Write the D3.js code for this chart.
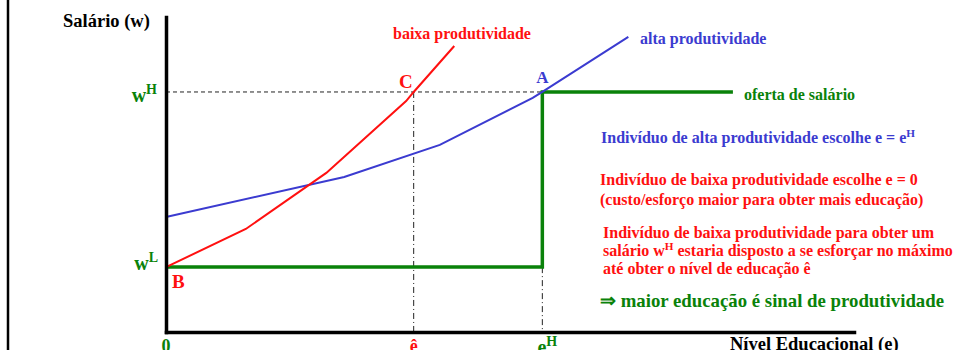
<!DOCTYPE html>
<html>
<head>
<meta charset="utf-8">
<script src="https://cdn.jsdelivr.net/npm/d3@7"></script>
<style>
  body { margin: 0; background: #fff; }
  svg { display: block; font-family: "Liberation Serif", "Times New Roman", serif; font-weight: bold; }
</style>
</head>
<body>
<svg id="chart" width="961" height="350"></svg>
<script>
// education level (x) and wage (y), 0..100 scale
const lowX = [0, 11.6, 23.3, 34.9, 36.0, 41.9];
const lowY = [20.6, 32.7, 50.5, 73.3, 76.2, 90.8];
const highX = [0, 25.9, 39.8, 53.3, 54.7, 67.2];
const highY = [36.5, 49.2, 59.4, 74.3, 76.2, 93.7];
const offerX = [0, 54.7, 54.7, 82.4];
const offerY = [20.6, 20.6, 76.2, 76.2];
const wL = 20.6, wH = 76.2, eHat = 36.0, eH = 54.7;

const seriesNames = ['baixa produtividade', 'alta produtividade', 'oferta de salário'];
const pointLabels = ['A', 'B', 'C'];
const notes = [
  { color: 'blue', parts: [['Indivíduo de alta produtividade escolhe e = e'], ['H', 1]] },
  { color: 'red', parts: [['Indivíduo de baixa produtividade escolhe e = 0']] },
  { color: 'red', parts: [['(custo/esforço maior para obter mais educação)']] },
  { color: 'red', parts: [['Indivíduo de baixa produtividade para obter um']] },
  { color: 'red', parts: [['salário w'], ['H', 1], [' estaria disposto a se esforçar no máximo']] },
  { color: 'red', parts: [['até obter o nível de educação ê']] },
  { color: 'green', parts: [['⇒ maior educação é sinal de produtividade']] }
];

const C = { red: '#ff1010', blue: '#3b3bd0', green: '#0a820a', black: '#000' };

const svg = d3.select('#chart');
const x = d3.scaleLinear().domain([0, 100]).range([166, 854]);
const y = d3.scaleLinear().domain([0, 100]).range([332, 17]);

// text with optional superscript parts
function label(g, px, py, parts, size, color, anchor = 'start') {
  const t = g.append('text')
    .attr('x', px).attr('y', py)
    .attr('font-size', size)
    .attr('fill', color)
    .attr('text-anchor', anchor);
  let raised = false;
  parts.forEach(([s, sup]) => {
    const ts = t.append('tspan').text(s);
    if (sup && !raised) { ts.attr('dy', -size * 0.4).attr('font-size', size * 0.7); raised = true; }
    else if (!sup && raised) { ts.attr('dy', size * 0.4); raised = false; }
  });
  return t;
}

// slide border on the left
svg.append('line')
  .attr('x1', 8).attr('x2', 8).attr('y1', 0).attr('y2', 350)
  .attr('stroke', C.black).attr('stroke-width', 2.5);

// guide lines
svg.append('line')
  .attr('x1', x(0)).attr('x2', x(eH)).attr('y1', y(wH)).attr('y2', y(wH))
  .attr('stroke', '#222').attr('stroke-width', 1).attr('stroke-dasharray', '4,3');
svg.append('line')
  .attr('x1', x(eHat)).attr('x2', x(eHat)).attr('y1', y(wH)).attr('y2', y(0))
  .attr('stroke', '#222').attr('stroke-width', 1).attr('stroke-dasharray', '6,3,1,3');
svg.append('line')
  .attr('x1', x(eH)).attr('x2', x(eH)).attr('y1', y(wL)).attr('y2', y(0))
  .attr('stroke', '#222').attr('stroke-width', 1).attr('stroke-dasharray', '6,3,1,3');

const line = d3.line().x(d => x(d[0])).y(d => y(d[1]));

svg.append('path')
  .datum(offerX.map((v, i) => [v, offerY[i]]))
  .attr('d', line).attr('fill', 'none')
  .attr('stroke', C.green).attr('stroke-width', 3.5);
svg.append('path')
  .datum(highX.map((v, i) => [v, highY[i]]))
  .attr('d', line).attr('fill', 'none')
  .attr('stroke', C.blue).attr('stroke-width', 2);
svg.append('path')
  .datum(lowX.map((v, i) => [v, lowY[i]]))
  .attr('d', line).attr('fill', 'none')
  .attr('stroke', C.red).attr('stroke-width', 2);

// axes, no ticks
svg.append('g')
  .attr('transform', `translate(0,${y(0)})`)
  .call(d3.axisBottom(x).tickValues([]).tickSizeOuter(0))
  .call(g => g.select('.domain').attr('stroke-width', 3.5).attr('stroke-linecap', 'square'));
svg.append('g')
  .attr('transform', `translate(${x(0)},0)`)
  .call(d3.axisLeft(y).tickValues([]).tickSizeOuter(0))
  .call(g => g.select('.domain').attr('stroke-width', 3.5).attr('stroke-linecap', 'square'));

// axis titles and labels (bottom row is cut by the frame, as in the original)
label(svg, 63, 27, [['Salário (w)']], 18.5, C.black);
label(svg, 730, 350, [['Nível Educacional (e)']], 18.5, C.black);
label(svg, 157, y(wH) + 10, [['w'], ['H', 1]], 20, C.green, 'end');
label(svg, 158, y(wL) + 3, [['w'], ['L', 1]], 20, C.green, 'end');
label(svg, x(0), 352, [['0']], 18, C.green, 'middle');
label(svg, x(eHat), 352, [['ê']], 18, C.red, 'middle');
label(svg, x(eH) + 5, 354, [['e'], ['H', 1]], 20, C.green, 'middle');

// series labels
label(svg, 393, 39, [[seriesNames[0]]], 16, C.red);
label(svg, 640, 44, [[seriesNames[1]]], 16, C.blue);
label(svg, 744, 100, [[seriesNames[2]]], 16, C.green);

// point labels
label(svg, x(eH) - 6, y(wH) - 9, [[pointLabels[0]]], 17, C.blue);
label(svg, x(0) + 6, y(wL) + 21, [[pointLabels[1]]], 19, C.red);
label(svg, x(eHat) - 1, y(wH) - 4, [[pointLabels[2]]], 19, C.red, 'end');

// explanation block
const noteY = [143, 185, 205, 238, 256, 274, 307];
const noteX = [601, 600, 600, 603, 603, 603, 600];
notes.forEach((n, i) => {
  label(svg, noteX[i], noteY[i], n.parts, i === 6 ? 18.8 : 16, C[n.color]);
});
</script>
</body>
</html>
